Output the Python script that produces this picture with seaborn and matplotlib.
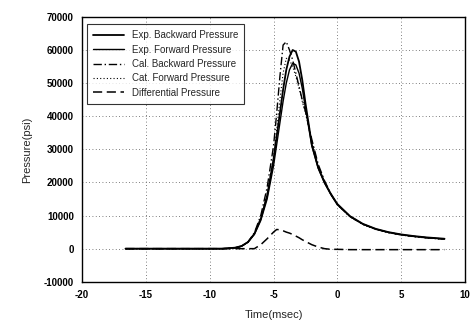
import numpy as np
import pandas as pd
import matplotlib
matplotlib.use("Agg")
import matplotlib.pyplot as plt
import seaborn as sns

# ----------------- data -----------------
time_ms = [-16.6, -12, -9, -8, -7.5, -7, -6.5, -6, -5.5, -5, -4.75, -4.5, -4.25,
           -4, -3.75, -3.5, -3.25, -3, -2.75, -2.5, -2, -1.5, -1, -0.5, 0,
           1, 2, 3, 4, 5, 6, 7, 8.4]

exp_backward = [0, 0, 0, 300, 800, 2000, 4500, 9000, 16000, 27000, 34000, 41000, 48000,
                54000, 58000, 60000, 59500, 56500, 51000, 44000, 31500, 24500, 20000, 16500, 13500,
                9800, 7500, 6000, 5000, 4300, 3800, 3400, 3000]

exp_forward = [0, 0, 0, 300, 800, 2000, 4300, 8500, 15000, 25000, 31500, 38000, 44500,
               50000, 54000, 56000, 55500, 53000, 48500, 42500, 31000, 24300, 19800, 16300, 13300,
               9700, 7400, 5900, 4900, 4200, 3700, 3300, 2900]

cal_backward = [0, 0, 0, 200, 700, 2000, 4800, 10000, 18500, 31000, 41000, 52000, 61500,
                62500, 60000, 57000, 53000, 49000, 45000, 41500, 33000, 25500, 20500, 16500, 13300,
                9700, 7400, 5900, 4900, 4200, 3700, 3300, 2900]

cal_forward = [0, 0, 0, 200, 700, 1900, 4500, 9200, 16500, 27500, 36000, 45000, 53000,
               57500, 57000, 55000, 52000, 48500, 44500, 41000, 32500, 25000, 20200, 16300, 13200,
               9600, 7300, 5800, 4800, 4100, 3600, 3200, 2800]

differential = [0, 0, 0, 0, 0, 0, 0, 1200, 3000, 5000, 5800, 5700, 5400,
                5000, 4700, 4300, 3800, 3300, 2700, 2200, 1200, 500, 0, -200, -200,
                -300, -300, -300, -300, -300, -300, -300, -300]

series = [
    ("Exp. Backward Pressure", exp_backward, "-", 1.3),
    ("Exp. Forward Pressure", exp_forward, "-", 1.0),
    ("Cal. Backward Pressure", cal_backward, (0, (6, 2, 1, 2)), 1.0),
    ("Cat. Forward Pressure", cal_forward, (0, (1, 2)), 0.8),
    ("Differential Pressure", differential, (0, (6, 3)), 1.1),
]
# -----------------------------------------------------------

sns.set_style("white")
plt.rcParams['font.family'] = ['Liberation Sans', 'DejaVu Sans']
plt.rcParams['axes.unicode_minus'] = False

fig = plt.figure(figsize=(4.72, 3.25), dpi=100)
ax = fig.add_axes([0.174, 0.133, 0.811, 0.815])

for name, vals, ls, lw in series:
    sns.lineplot(x=time_ms, y=vals, ax=ax, color="black", linestyle=ls,
                 linewidth=lw, label=name)

ax.set_xlim(-20, 10)
ax.set_ylim(-10000, 70000)
ax.set_xticks(np.arange(-20, 11, 5))
ax.set_yticks(np.arange(-10000, 70001, 10000))
ax.grid(True, color="#555555", linestyle=(0, (1, 3)), linewidth=0.6)

for s in ax.spines.values():
    s.set_color("black")
    s.set_linewidth(1.0)

ax.tick_params(axis="both", direction="out", length=3, width=0.8,
               colors="black", labelsize=7, pad=3)
for lab in ax.get_xticklabels() + ax.get_yticklabels():
    lab.set_fontweight("bold")

ax.set_xlabel("Time(msec)", fontsize=8, labelpad=7)
ax.set_ylabel("Pressure(psi)", fontsize=8, labelpad=8)

leg = ax.legend(loc="upper left", fontsize=7, frameon=True, fancybox=False,
                edgecolor="black", handlelength=3.2, borderpad=0.6,
                labelspacing=0.45, bbox_to_anchor=(0.0, 0.99))
leg.get_frame().set_linewidth(0.8)

fig.savefig("out.png", dpi=100)
